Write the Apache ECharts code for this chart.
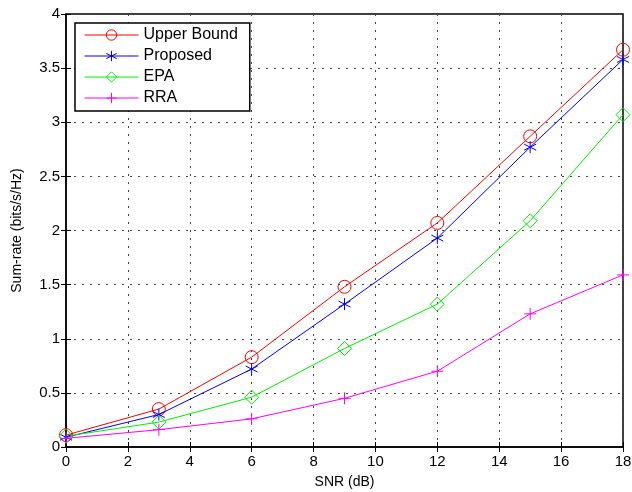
<!DOCTYPE html>
<html>
<head>
<meta charset="UTF-8">
<script src="https://cdn.jsdelivr.net/npm/echarts@6/dist/echarts.min.js"></script>
<style>html,body{margin:0;padding:0;background:#fff}</style>
</head>
<body>
<div id="container" style="width:632px;height:492px"></div>
<script type="text/javascript">
var snr = [0, 3, 6, 9, 12, 15, 18];
var upperBound = [0.11, 0.35, 0.83, 1.48, 2.07, 2.87, 3.67];
var proposed = [0.09, 0.30, 0.72, 1.32, 1.93, 2.77, 3.58];
var epa = [0.10, 0.23, 0.46, 0.91, 1.32, 2.09, 3.07];
var rra = [0.08, 0.16, 0.26, 0.45, 0.70, 1.23, 1.59];

var star = 'path://M0,-10L0,10M-8.66,-5L8.66,5M-8.66,5L8.66,-5';
var plus = 'path://M0,-10L0,10M-10,0L10,0';
var font = 'Liberation Sans, Arial, Helvetica, sans-serif';

function pairs(ys) {
	var out = [];
	for (var i = 0; i < snr.length; i++) out.push([snr[i], ys[i]]);
	return out;
}

function line(name, ys, color, symbol, size) {
	return {
		name: name,
		type: 'line',
		color: color,
		data: pairs(ys),
		symbol: symbol,
		symbolSize: size,
		showAllSymbol: true,
		animation: false,
		lineStyle: { color: color, width: 1 },
		itemStyle: { color: 'rgba(255,255,255,0)', borderColor: color, borderWidth: 1 }
	};
}

var dom = document.getElementById("container");
var myChart = echarts.init(dom);

var tickIn = { inside: true, length: 5, lineStyle: { color: '#000', width: 1 } };
var grid = { type: [2, 6], color: '#444', width: 1 };

var option = {
	backgroundColor: '#fff',
	animation: false,
	grid: { left: 66, right: 9, top: 14, bottom: 45, outerBoundsMode: 'none', containLabel: false,
		show: true, borderColor: '#000', borderWidth: 1.5 },
	legend: {
		left: 75, top: 23,
		orient: 'vertical',
		backgroundColor: '#fff',
		borderColor: '#000',
		borderWidth: 1.5,
		borderRadius: 0,
		padding: [4, 12, 5, 9],
		itemGap: 5,
		itemWidth: 54,
		itemHeight: 13,
		lineStyle: { width: 1 },
		itemStyle: { borderWidth: 1 },
		textStyle: { fontFamily: font, fontSize: 16, color: '#000' },
		data: ['Upper Bound', 'Proposed', 'EPA', 'RRA']
	},
	xAxis: [{
		type: 'value', min: 0, max: 18, interval: 2,
		name: 'SNR (dB)', nameLocation: 'middle', nameGap: 28,
		nameTextStyle: { fontFamily: font, fontSize: 14, color: '#000' },
		axisLine: { lineStyle: { color: '#000', width: 1.5 } },
		axisTick: tickIn,
		axisLabel: { fontFamily: font, fontSize: 15, color: '#000', margin: 7 },
		splitLine: { show: true, lineStyle: grid }
	}, {
		type: 'value', min: 0, max: 18, interval: 2, position: 'top',
		axisLine: { show: false }, axisTick: tickIn, axisLabel: { show: false }, splitLine: { show: false }
	}],
	yAxis: [{
		type: 'value', min: 0, max: 4, interval: 0.5,
		name: 'Sum-rate (bits/s/Hz)', nameLocation: 'middle', nameGap: 42,
		nameTextStyle: { fontFamily: font, fontSize: 14, color: '#000' },
		axisLine: { lineStyle: { color: '#000', width: 1.5 } },
		axisTick: tickIn,
		axisLabel: { fontFamily: font, fontSize: 15, color: '#000', margin: 6 },
		splitLine: { show: true, lineStyle: grid }
	}, {
		type: 'value', min: 0, max: 4, interval: 0.5, position: 'right',
		axisLine: { show: false }, axisTick: tickIn, axisLabel: { show: false }, splitLine: { show: false }
	}],
	series: [
		line('Upper Bound', upperBound, '#ff0000', 'circle', 13),
		line('Proposed', proposed, '#0000ff', star, 12),
		line('EPA', epa, '#00ee00', 'diamond', 14),
		line('RRA', rra, '#ff00ff', plus, 12)
	]
};

if (option && typeof option === "object") {
	myChart.setOption(option, true);
}
</script>
</body>
</html>
